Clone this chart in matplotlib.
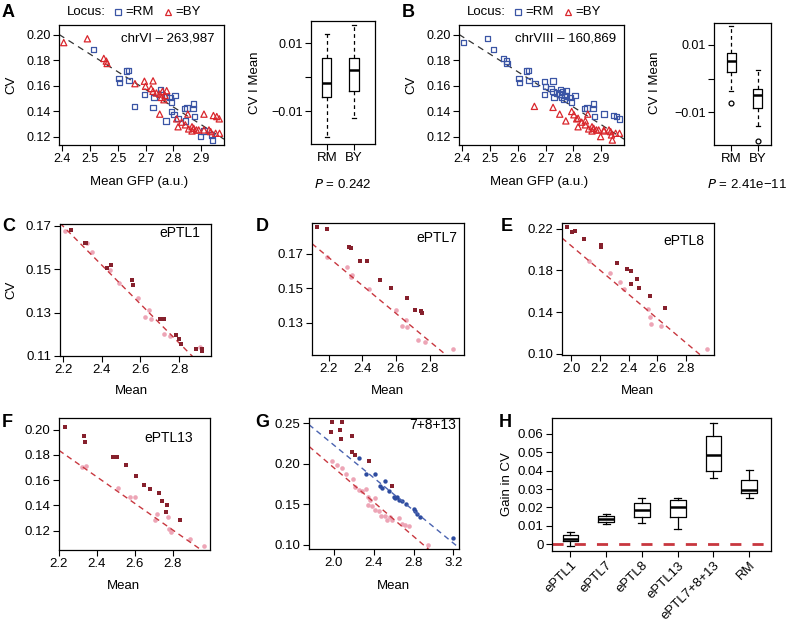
import numpy as np
import matplotlib.pyplot as plt

plt.rcParams['font.family'] = ['Liberation Sans', 'DejaVu Sans']
plt.rcParams['font.size'] = 8.5

# ---- panels A/B: the same segregants, coloured by genotype at two loci
mean_gfp = [2.406, 2.491, 2.513, 2.550, 2.559, 2.562, 2.605, 2.607, 2.632, 2.638,
            2.641, 2.660, 2.662, 2.696, 2.696, 2.700, 2.720, 2.727, 2.727, 2.727,
            2.730, 2.739, 2.751, 2.751, 2.754, 2.757, 2.761, 2.766, 2.770, 2.773,
            2.776, 2.776, 2.788, 2.794, 2.794, 2.802, 2.806, 2.812, 2.817, 2.817,
            2.830, 2.839, 2.843, 2.843, 2.849, 2.852, 2.855, 2.867, 2.867, 2.871,
            2.873, 2.873, 2.876, 2.883, 2.891, 2.898, 2.910, 2.910, 2.910, 2.928,
            2.934, 2.937, 2.940, 2.944, 2.952, 2.956, 2.965, 2.966]
cv_gfp = [0.1940, 0.1970, 0.1887, 0.1816, 0.1795, 0.1776, 0.1658, 0.1629, 0.1716, 0.1721,
          0.1642, 0.1440, 0.1618, 0.1637, 0.1532, 0.1597, 0.1580, 0.1640, 0.1558, 0.1432,
          0.1510, 0.1545, 0.1537, 0.1379, 0.1571, 0.1510, 0.1558, 0.1492, 0.1526, 0.1326,
          0.1563, 0.1518, 0.1510, 0.1474, 0.1400, 0.1374, 0.1526, 0.1342, 0.1347, 0.1280,
          0.1316, 0.1421, 0.1295, 0.1326, 0.1426, 0.1379, 0.1263, 0.1280, 0.1247, 0.1421,
          0.1458, 0.1268, 0.1361, 0.1255, 0.1255, 0.1203, 0.1379, 0.1247, 0.1255, 0.1255,
          0.1242, 0.1216, 0.1176, 0.1368, 0.1229, 0.1360, 0.1342, 0.1229]
locus_a = ("BY BY RM BY BY BY RM RM RM RM RM RM BY BY RM BY BY BY BY RM "
           "RM BY BY BY RM BY BY BY BY RM BY RM RM RM RM RM RM BY RM BY "
           "BY RM BY RM RM BY BY BY BY RM RM BY RM BY BY RM BY RM BY BY "
           "BY RM RM BY BY BY BY BY").split()
locus_b = ("RM RM RM RM RM RM RM RM RM RM RM BY RM RM RM RM RM RM RM BY "
           "RM RM RM BY RM RM RM RM RM BY RM RM RM RM BY BY RM BY BY BY "
           "BY RM BY BY RM BY BY BY BY RM RM BY RM BY BY BY RM BY BY BY "
           "BY BY BY RM BY RM RM BY").split()
a_xticklabels = ['2.4', '2.5', '2.5', '2.7', '2.8', '2.9']

# CV | Mean residual boxplots (whisker low, q1, median, q3, whisker high)
box_a = {'RM': [-0.0176, -0.0059, -0.0018, 0.0056, 0.0126],
         'BY': [-0.0121, -0.0041, 0.0021, 0.0056, 0.0153]}
box_b = {'RM': [-0.0037, 0.0019, 0.0052, 0.0077, 0.0155],
         'BY': [-0.0140, -0.0087, -0.0048, -0.0032, 0.0027]}
fliers_b = {'RM': [-0.0072], 'BY': [-0.0184]}

# ---- panels C-G: dark = with ePTL, pink = without, blue = RM parent
c_dark_x = [2.240, 2.312, 2.320, 2.429, 2.450, 2.557, 2.562, 2.703, 2.720, 2.783, 2.798, 2.812, 2.886, 2.916, 2.921]
c_dark_y = [0.1682, 0.1620, 0.1620, 0.1504, 0.1517, 0.1448, 0.1429, 0.1272, 0.1272, 0.1198, 0.1180, 0.1153, 0.1134, 0.1124, 0.1134]
c_pink_x = [2.212, 2.324, 2.352, 2.441, 2.488, 2.588, 2.645, 2.624, 2.657, 2.721, 2.752, 2.907]
c_pink_y = [0.1677, 0.1620, 0.1578, 0.1497, 0.1435, 0.1368, 0.1313, 0.1280, 0.1272, 0.1200, 0.1191, 0.1142]

d_dark_x = [2.130, 2.190, 2.323, 2.335, 2.389, 2.429, 2.504, 2.568, 2.663, 2.711, 2.751, 2.757]
d_dark_y = [0.1855, 0.1846, 0.1737, 0.1733, 0.1659, 0.1659, 0.1549, 0.1500, 0.1446, 0.1374, 0.1370, 0.1358]
d_pink_x = [2.190, 2.309, 2.339, 2.335, 2.439, 2.598, 2.657, 2.633, 2.666, 2.733, 2.771, 2.940]
d_pink_y = [0.1680, 0.1622, 0.1578, 0.1568, 0.1494, 0.1374, 0.1316, 0.1283, 0.1277, 0.1199, 0.1189, 0.1145]

e_dark_x = [1.970, 2.005, 2.028, 2.091, 2.208, 2.208, 2.320, 2.391, 2.414, 2.419, 2.461, 2.477, 2.554, 2.653]
e_dark_y = [0.2216, 0.2165, 0.2181, 0.2104, 0.2046, 0.2021, 0.1870, 0.1816, 0.1790, 0.1672, 0.1717, 0.1630, 0.1557, 0.1438]
e_pink_x = [2.126, 2.269, 2.339, 2.367, 2.536, 2.550, 2.561, 2.625, 2.952]
e_pink_y = [0.1893, 0.1774, 0.1688, 0.1621, 0.1432, 0.1352, 0.1288, 0.1269, 0.1045]

f_dark_x = [2.230, 2.331, 2.340, 2.487, 2.508, 2.552, 2.607, 2.651, 2.681, 2.726, 2.743, 2.770, 2.765, 2.841]
f_dark_y = [0.2021, 0.1952, 0.1902, 0.1783, 0.1780, 0.1722, 0.1629, 0.1563, 0.1531, 0.1497, 0.1436, 0.1404, 0.1351, 0.1285]
f_pink_x = [2.319, 2.342, 2.513, 2.575, 2.602, 2.708, 2.717, 2.775, 2.779, 2.791, 2.894, 2.968]
f_pink_y = [0.1703, 0.1709, 0.1536, 0.1470, 0.1465, 0.1285, 0.1333, 0.1311, 0.1213, 0.1192, 0.1131, 0.1078]

g_dark_x = [1.967, 1.983, 2.057, 2.077, 2.073, 2.177, 2.183, 2.210, 2.350, 2.583]
g_dark_y = [0.2385, 0.2508, 0.2418, 0.2508, 0.2303, 0.2336, 0.2138, 0.2101, 0.2027, 0.1727]
g_blue_x = [2.257, 2.323, 2.417, 2.467, 2.483, 2.510, 2.550, 2.600, 2.617, 2.633,
            2.657, 2.683, 2.723, 2.800, 2.817, 2.833, 2.867, 3.200]
g_blue_y = [0.2068, 0.1871, 0.1875, 0.1727, 0.1699, 0.1781, 0.1666, 0.1588, 0.1575, 0.1588,
            0.1555, 0.1534, 0.1501, 0.1444, 0.1411, 0.1378, 0.1337, 0.1082]
g_pink_x = [1.983, 2.033, 2.083, 2.123, 2.190, 2.217, 2.257, 2.283, 2.323, 2.343,
            2.367, 2.417, 2.343, 2.383, 2.410, 2.450, 2.477, 2.517, 2.567, 2.583,
            2.533, 2.650, 2.683, 2.717, 2.750, 2.950]
g_pink_y = [0.2027, 0.1986, 0.1940, 0.1875, 0.1810, 0.1711, 0.1678, 0.1657, 0.1686, 0.1588,
            0.1555, 0.1575, 0.1493, 0.1472, 0.1431, 0.1419, 0.1357, 0.1349, 0.1341, 0.1308,
            0.1308, 0.1329, 0.1255, 0.1247, 0.1234, 0.1000]

# reference regression lines (intercept, slope)
line_c = (0.3669, -0.0896)
line_d = (0.3465, -0.0812)
line_e = (0.4344, -0.1155)
line_f = (0.4146, -0.1050)
line_g_red = (0.4060, -0.1056)
line_g_blue = (0.4242, -0.1007)

# ---- panel H: gain in CV
h_names = ['ePTL1', 'ePTL7', 'ePTL8', 'ePTL13', 'ePTL7+8+13', 'RM']
h_stats = [[-0.0009, 0.0016, 0.0031, 0.0049, 0.0067],
           [0.0113, 0.0120, 0.0140, 0.0156, 0.0164],
           [0.0118, 0.0149, 0.0185, 0.0225, 0.0249],
           [0.0085, 0.0149, 0.0200, 0.0240, 0.0253],
           [0.0362, 0.0398, 0.0485, 0.0589, 0.0658],
           [0.0249, 0.0276, 0.0295, 0.0349, 0.0404]]

BLUE = '#3b55a5'
RED = '#d9262c'
DARK = '#86202c'
PINK = '#eda5b6'
GBLUE = '#2d4b9f'
LRED = '#c8373f'

W, H = 786, 623
fig = plt.figure(figsize=(W / 100, H / 100), dpi=100)


def add_ax(l, t, r, b, fs=8.5):
    ax = fig.add_axes([l / W, 1 - b / H, (r - l) / W, (b - t) / H])
    ax.tick_params(direction='out', length=4, width=0.8, labelsize=fs, pad=2)
    for s in ax.spines.values():
        s.set_linewidth(0.9)
    return ax


def ftext(x, y, s, **kw):
    return fig.text(x / W, 1 - y / H, s, **kw)


def two_dec(ax, ticks):
    ax.set_yticks(ticks)
    ax.set_yticklabels(['%.2f' % t for t in ticks])


def ref_line(ax, line, color):
    x = np.array(ax.get_xlim())
    ax.plot(x, line[0] + line[1] * x, color=color, lw=1, dashes=(4, 3))


def make_stats(vals, fl=None):
    out = []
    for i, v in enumerate(vals):
        out.append(dict(whislo=v[0], q1=v[1], med=v[2], q3=v[3], whishi=v[4],
                        fliers=[] if fl is None else fl[i]))
    return out


# ---------- A and B scatter
for left, locus, chrom, letter, lx in [(59, locus_a, 'chrVI \u2013 263,987', 'A', 0),
                                     (459, locus_b, 'chrVIII \u2013 160,869', 'B', 400)]:
    ax = add_ax(left, 25, left + 165, 145, fs=9)
    ax.set_xlim(2.389, 2.982)
    ax.set_ylim(0.1137, 0.2078)
    k = np.polyfit(mean_gfp, cv_gfp, 1)
    xx = np.array(ax.get_xlim())
    ax.plot(xx, np.polyval(k, xx), color='#333333', lw=0.9, dashes=(5, 4))
    xs = np.array(mean_gfp)
    ys = np.array(cv_gfp)
    g = np.array(locus)
    ax.scatter(xs[g == 'RM'], ys[g == 'RM'], marker='s', s=15, facecolor='none',
               edgecolor=BLUE, lw=0.9, zorder=3)
    ax.scatter(xs[g == 'BY'], ys[g == 'BY'], marker='^', s=20, facecolor='none',
               edgecolor=RED, lw=0.9, zorder=3)
    ax.set_xticks([2.4, 2.5, 2.6, 2.7, 2.8, 2.9])
    ax.set_xticklabels(a_xticklabels if letter == 'A' else ['2.4', '2.5', '2.6', '2.7', '2.8', '2.9'])
    two_dec(ax, [0.12, 0.14, 0.16, 0.18, 0.20])
    ax.text(0.94 if letter == 'A' else 0.955, 0.89, chrom, transform=ax.transAxes,
            ha='right', va='center', fontsize=9.5)
    ftext(lx + 11, 85, 'CV', rotation=90, ha='center', va='center', fontsize=9.5)
    ftext(left + 80, 182, 'Mean GFP (a.u.)', ha='center', va='center', fontsize=9.5)
    ftext(lx + 2, 4, letter, fontsize=13, fontweight='bold', va='top', ha='left')
    # locus legend
    ftext(lx + 67, 12, 'Locus:', va='center', ha='left', fontsize=9.5)
    fig.add_artist(plt.Line2D([(lx + 118) / W], [1 - 12 / H], marker='s', ms=4,
                              mfc='none', mec=BLUE, mew=0.9, ls='none'))
    ftext(lx + 125, 12, '=RM', va='center', ha='left', fontsize=9.5)
    fig.add_artist(plt.Line2D([(lx + 168) / W], [1 - 12 / H], marker='^', ms=4.5,
                              mfc='none', mec=RED, mew=0.9, ls='none'))
    ftext(lx + 175, 12, '=BY', va='center', ha='left', fontsize=9.5)

# ---------- A and B boxplots
for (l, t, r, b), box, fl, xlim, pval, cx, lx in [
        ((311, 21, 375, 144), box_a, None, (0.42, 2.77), '0.242', 343, 0),
        ((714, 23, 771, 145), box_b, fliers_b, (0.36, 2.49), '2.41e\u221211', 747, 400)]:
    ax = add_ax(l, t, r, b, fs=9)
    vals = [box['RM'], box['BY']]
    fls = None if fl is None else [fl['RM'], fl['BY']]
    ax.bxp(make_stats(vals, fls), positions=[1, 2], widths=0.34, capwidths=0.15,
           showfliers=fl is not None,
           boxprops=dict(color='black', lw=0.9),
           whiskerprops=dict(color='black', lw=0.9, dashes=(3, 2.5)),
           capprops=dict(color='black', lw=0.9),
           medianprops=dict(color='black', lw=1.8),
           flierprops=dict(marker='o', ms=3.5, mfc='none', mec='black', mew=0.9))
    ax.set_xlim(*xlim)
    ax.set_ylim(-0.0197, 0.0165)
    ax.set_yticks([-0.01, 0, 0.01])
    ax.set_yticklabels(['\u22120.01', '', '0.01'])
    ax.set_xticks([1, 2])
    ax.set_xticklabels(['RM', 'BY'], fontsize=9.5)
    ftext(lx + 255, 83, 'CV I Mean', rotation=90, ha='center', va='center', fontsize=9.5)
    ftext(cx, 184, '$P$ = ' + pval, ha='center', va='center', fontsize=9.5)

# ---------- C-G
panels = [
    ('C', (60, 224, 211, 356), c_dark_x, c_dark_y, c_pink_x, c_pink_y, line_c,
     (2.184, 2.965), (0.11, 0.1708), [0.11, 0.13, 0.15, 0.17], [2.2, 2.4, 2.6, 2.8],
     'ePTL1', (0.93, 0.93), (0, 218), (131, 391)),
    ('D', (312, 223, 464, 355), d_dark_x, d_dark_y, d_pink_x, d_pink_y, line_d,
     (2.101, 3.004), (0.1112, 0.1879), [0.13, 0.15, 0.17], [2.2, 2.4, 2.6, 2.8],
     'ePTL7', (0.954, 0.886), (254, 218), (387, 391)),
    ('E', (562, 223, 714, 355), e_dark_x, e_dark_y, e_pink_x, e_pink_y, line_e,
     (1.934, 2.999), (0.099, 0.2254), [0.10, 0.14, 0.18, 0.22], [2.0, 2.2, 2.4, 2.6, 2.8],
     'ePTL8', (0.934, 0.864), (499, 218), (637, 391)),
    ('F', (59, 418, 210, 550), f_dark_x, f_dark_y, f_pink_x, f_pink_y, line_f,
     (2.2, 2.998), (0.1046, 0.2093), [0.12, 0.14, 0.16, 0.18, 0.20], [2.2, 2.4, 2.6, 2.8],
     'ePTL13', (0.887, 0.85), (0, 414), (123, 586)),
    ('G', (309, 418, 459, 549), g_dark_x, g_dark_y, g_pink_x, g_pink_y, line_g_red,
     (1.75, 3.257), (0.0947, 0.2562), [0.10, 0.15, 0.20, 0.25], [2.0, 2.4, 2.8, 3.2],
     '7+8+13', (0.98, 0.947), (253, 414), (393, 586)),
]
for (letter, box, dx, dy, px, py, line, xlim, ylim, yt, xt, name, npos,
     lpos, mpos) in panels:
    ax = add_ax(*box, fs=9.5)
    ax.set_xlim(*xlim)
    ax.set_ylim(*ylim)
    ax.scatter(px, py, marker='o', s=11, color=PINK, lw=0, zorder=2)
    if letter == 'G':
        ax.scatter(g_blue_x, g_blue_y, marker='o', s=10, color=GBLUE, lw=0, zorder=2)
        ref_line(ax, line_g_blue, '#4a63b0')
    ref_line(ax, line, LRED)
    ax.scatter(dx, dy, marker='s', s=11, color=DARK, lw=0, zorder=3)
    two_dec(ax, yt)
    ax.set_xticks(xt)
    ax.set_xticklabels(['%.1f' % v for v in xt])
    ax.text(npos[0], npos[1], name, transform=ax.transAxes, ha='right', va='center',
            fontsize=10)
    ftext(lpos[0] + 2, lpos[1], letter, fontsize=13, fontweight='bold', va='top', ha='left')
    ftext(mpos[0], mpos[1], 'Mean', ha='center', va='center', fontsize=9.5)
ftext(11, 290, 'CV', rotation=90, ha='center', va='center', fontsize=9.5)

# ---------- H
ax = add_ax(552, 418, 771, 551, fs=9.5)
ax.axhline(0, color=LRED, lw=2, dashes=(4, 4), zorder=1)
ax.bxp(make_stats(h_stats), positions=range(1, 7), widths=0.44, capwidths=0.2,
       showfliers=False,
       boxprops=dict(color='black', lw=0.9),
       whiskerprops=dict(color='black', lw=0.9),
       capprops=dict(color='black', lw=0.9),
       medianprops=dict(color='black', lw=1.8))
ax.set_xlim(0.486, 6.61)
ax.set_ylim(-0.0036, 0.0685)
ax.set_yticks([0, 0.01, 0.02, 0.03, 0.04, 0.05, 0.06])
ax.set_yticklabels(['0', '0.01', '0.02', '0.03', '0.04', '0.05', '0.06'])
ax.set_xticks(range(1, 7))
ax.set_xticklabels(h_names, rotation=45, ha='right', rotation_mode='anchor', fontsize=9.5)
ftext(507, 484, 'Gain in CV', rotation=90, ha='center', va='center', fontsize=9.5)
ftext(499, 414, 'H', fontsize=13, fontweight='bold', va='top', ha='left')

fig.savefig('out.png', dpi=100)
